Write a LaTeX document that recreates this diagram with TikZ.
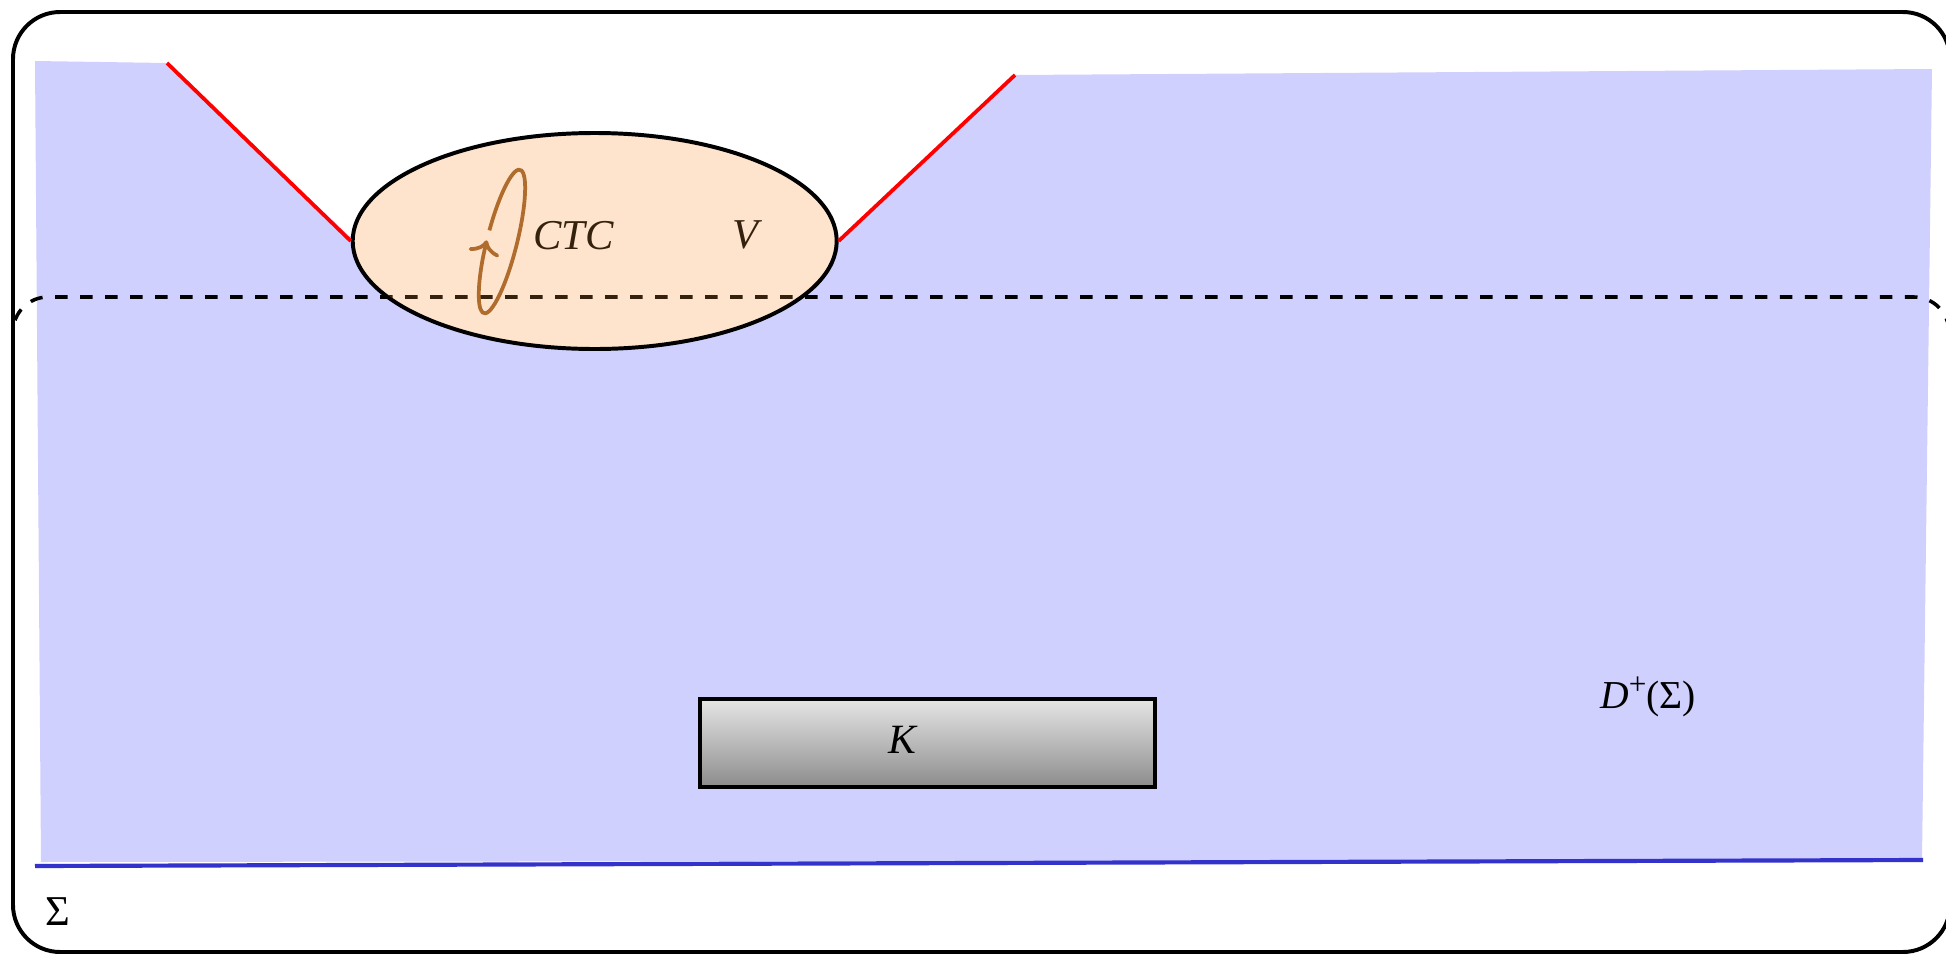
\documentclass[tikz,border=0pt]{standalone}
\usepackage{fontspec}
\setmainfont{Liberation Serif}
\usetikzlibrary{shapes.geometric,arrows.meta}
\definecolor{regionblue}{RGB}{208,208,254}
\definecolor{sigmablue}{RGB}{51,51,204}
\definecolor{vfill}{RGB}{254,228,204}
\definecolor{loopbrown}{RGB}{176,108,44}
\definecolor{inkbrown}{RGB}{52,34,14}
\tikzset{
  frame/.style={draw=black, line width=0.95pt, rounded corners=11.3pt},
  cauchy/.style={dashed, line width=0.85pt, rounded corners=8.4pt},
  horizon/.style={draw=red, line width=0.9pt},
  sigmaline/.style={draw=sigmablue, line width=1pt},
  vregion/.style={ellipse, draw=black, line width=0.95pt, fill=vfill, inner sep=0pt,
    minimum width={484*0.24pt}, minimum height={216*0.24pt}},
  kbox/.style={rectangle, draw=black, line width=0.95pt, top color=black!10, bottom color=black!45,
    inner sep=0pt, minimum width={455*0.24pt}, minimum height={88*0.24pt}},
  loopst/.style={draw=loopbrown, line width=0.9pt, -{To[length=3.4pt,width=7.5pt]}},
  lbl/.style={inner sep=0pt, font=\fontsize{10.2}{12}\selectfont},
}
\begin{document}
\begin{tikzpicture}[x=0.24pt, y=-0.24pt]
\useasboundingbox (0,0) rectangle (1946,955);
% region D+(Sigma)
\coordinate (tl) at (35,61);
\coordinate (hl) at (167,63);
\coordinate (hr) at (1015,75);
\coordinate (tr) at (1932,69);
\coordinate (br) at (1922,860);
\coordinate (bl) at (41,862);
\fill[regionblue] (tl) -- (hl) -- (349,236) -- (838,240) -- (hr) -- (tr) -- (br) -- (bl) -- cycle;
% Sigma line
\coordinate (sl) at (35,866);
\coordinate (sr) at (1923,860);
\draw[sigmaline] (sl) -- (sr);
% dashed surface
\draw[cauchy] (13,420) -- (13,297) -- (1949,297) -- (1949,420);
% V region
\node[vregion] (V) at (594.7,241) {};
\draw[horizon] (hl) -- (V.west);
\draw[horizon] (V.east) -- (hr);
\begin{scope}
  \clip (594.7,241) ellipse [x radius={240*0.24pt}, y radius={106*0.24pt}];
  \draw[cauchy, draw=inkbrown] (13,420) -- (13,297) -- (1949,297) -- (1949,420);
\end{scope}
% CTC loop
\coordinate (lc) at (502,241.5);
\begin{scope}[shift={(lc)}, rotate=75.9]
  \draw[loopst] (84:17.76pt and 3.6pt) arc[start angle=84, end angle=-268, x radius=17.76pt, y radius=3.6pt];
\end{scope}
\node[lbl, text=inkbrown] (ctc) at (573.5,236) {\textit{CTC}};
\node[lbl, text=inkbrown] (vl) at (748,235) {\textit{V}};
% compact set K
\node[kbox] (K) at (927.5,743) {};
\node[lbl, font=\fontsize{10}{12}\selectfont] (kl) at (903,740) {\textit{K}};
% labels
\node[lbl, font=\fontsize{9.5}{11}\selectfont] (dl) at (1648,697) {\textit{D}\raisebox{0.8ex}{\fontsize{7.5}{8}\selectfont +}(Σ)};
\node[lbl] (sig) at (58,912) {Σ};
% outer frame
\draw[frame] (13,12) rectangle (1950,952);
\end{tikzpicture}
\end{document}
